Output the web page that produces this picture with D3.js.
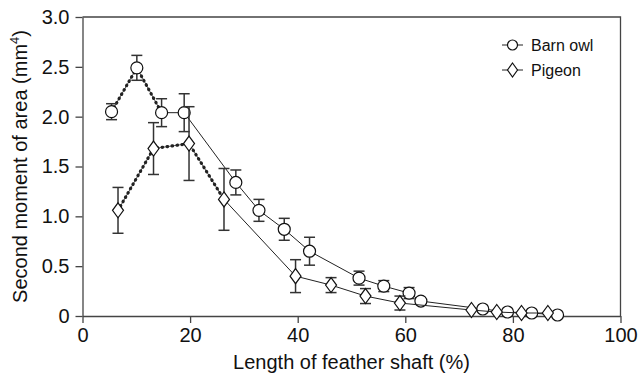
<!DOCTYPE html>
<html>
<head>
<meta charset="utf-8">
<script src="https://cdn.jsdelivr.net/npm/d3@7"></script>
<style>
  body { margin: 0; background: #fff; }
  svg { font-family: "Liberation Sans", Arial, sans-serif; }
</style>
</head>
<body>
<svg id="chart" width="639" height="379"></svg>
<script>
// barn owl (circles)
var owlX = [5.4, 10.1, 14.7, 18.9, 28.5, 32.8, 37.5, 42.2, 51.4, 56.0, 60.7, 62.9, 74.4, 79.0, 83.5, 88.3]
var owlY = [2.05, 2.49, 2.04, 2.04, 1.34, 1.06, 0.87, 0.65, 0.38, 0.30, 0.23, 0.15, 0.07, 0.04, 0.03, 0.01]
var owlErr = [0.08, 0.125, 0.14, 0.19, 0.125, 0.11, 0.11, 0.14, 0.07, 0.055, 0.055, 0, 0, 0, 0, 0]
var owlDotted = 3 // first points joined by the dotted line

// pigeon (diamonds)
var pigX = [6.6, 13.2, 19.8, 26.3, 39.6, 46.2, 52.6, 59.0, 72.3, 77.0, 81.6, 86.5]
var pigY = [1.06, 1.68, 1.73, 1.17, 0.40, 0.31, 0.20, 0.13, 0.06, 0.04, 0.03, 0.03]
var pigErr = [0.23, 0.26, 0.37, 0.31, 0.165, 0.075, 0.075, 0.07, 0, 0, 0, 0]
var pigDotted = 4

var xTicks = [0, 20, 40, 60, 80, 100]
var yTicks = [0, 0.5, 1.0, 1.5, 2.0, 2.5, 3.0]
var yTickLabels = ["0", "0.5", "1.0", "1.5", "2.0", "2.5", "3.0"]

var margin = {top: 17, right: 18.5, bottom: 63, left: 82.5}
  , width = 639 - margin.left - margin.right
  , height = 379 - margin.top - margin.bottom

var svg = d3.select("#chart")
var g = svg.append("g").attr("transform", "translate(" + margin.left + "," + margin.top + ")")

var x = d3.scaleLinear().domain([0, 100]).range([0, width])
var y = d3.scaleLinear().domain([0, 3]).range([height, 0])

// frame top + right
g.append("path")
  .attr("d", "M0,0H" + width + "V" + height)
  .attr("fill", "none").attr("stroke", "#444").attr("stroke-width", 1.3)

var xAxis = g.append("g")
  .attr("transform", "translate(0," + height + ")")
  .call(d3.axisBottom(x).tickValues(xTicks).tickSize(7).tickPadding(5).tickSizeOuter(0))
var yAxis = g.append("g")
  .call(d3.axisLeft(y).tickValues(yTicks).tickFormat((d, i) => yTickLabels[i]).tickSize(7).tickPadding(6).tickSizeOuter(0))

;[xAxis, yAxis].forEach(a => {
  a.selectAll("path, line").attr("stroke", "#444").attr("stroke-width", 1.3)
  a.selectAll("text").attr("fill", "#111").attr("font-size", 20)
    .attr("font-family", "Liberation Sans, Arial, sans-serif")
})

// axis titles
svg.append("text")
  .attr("x", margin.left + width / 2).attr("y", 369)
  .attr("text-anchor", "middle").attr("font-size", 20).attr("fill", "#111")
  .text("Length of feather shaft (%)")

var yt = svg.append("text")
  .attr("transform", "translate(27," + (margin.top + height / 2) + ") rotate(-90)")
  .attr("text-anchor", "middle").attr("font-size", 20).attr("fill", "#111")
yt.append("tspan").text("Second moment of area (mm")
yt.append("tspan").attr("dy", -8).attr("font-size", 13).text("4")
yt.append("tspan").attr("dy", 8).text(")")

function series(xs, ys, errs, nDot, symbol) {
  var pts = xs.map((d, i) => [d, ys[i], errs[i]])
  var line = d3.line().x(d => x(d[0])).y(d => y(d[1]))

  // thin solid line for the rest
  g.append("path").datum(pts.slice(nDot - 1))
    .attr("d", line).attr("fill", "none").attr("stroke", "#222").attr("stroke-width", 1)
  // dotted heavy part
  g.append("path").datum(pts.slice(0, nDot))
    .attr("d", line).attr("fill", "none").attr("stroke", "#555").attr("stroke-width", 1)
  g.append("path").datum(pts.slice(0, nDot))
    .attr("d", line).attr("fill", "none").attr("stroke", "#222")
    .attr("stroke-width", 3.2).attr("stroke-dasharray", "0.5,4.5").attr("stroke-linecap", "round")

  // error bars
  var eb = g.append("g").attr("stroke", "#333").attr("stroke-width", 1.5)
  pts.filter(d => d[2] > 0).forEach(d => {
    var cx = x(d[0]), t = y(d[1] + d[2]), b = y(d[1] - d[2])
    eb.append("line").attr("x1", cx).attr("x2", cx).attr("y1", t).attr("y2", b)
    eb.append("line").attr("x1", cx - 5.5).attr("x2", cx + 5.5).attr("y1", t).attr("y2", t)
    eb.append("line").attr("x1", cx - 5.5).attr("x2", cx + 5.5).attr("y1", b).attr("y2", b)
  })

  g.append("g").selectAll("path").data(pts).enter().append("path")
    .attr("transform", d => "translate(" + x(d[0]) + "," + y(d[1]) + ")")
    .attr("d", symbol)
    .attr("fill", "#fff").attr("stroke", "#111").attr("stroke-width", 1.2)
}

var circleSym = "M6,0A6,6 0 1,1 -6,0A6,6 0 1,1 6,0Z"
var diamondSym = "M0,-7.5L5.5,0L0,7.5L-5.5,0Z"

series(owlX, owlY, owlErr, owlDotted, circleSym)
series(pigX, pigY, pigErr, pigDotted, diamondSym)

// legend
var legend = svg.append("g").attr("font-size", 16).attr("fill", "#111")
var items = [["Barn owl", circleSym, 45], ["Pigeon", diamondSym, 70]]
items.forEach(it => {
  legend.append("line").attr("x1", 502).attr("x2", 523).attr("y1", it[2]).attr("y2", it[2])
    .attr("stroke", "#222").attr("stroke-width", 1)
  legend.append("path").attr("d", it[0] === "Barn owl" ? "M5,0A5,5 0 1,1 -5,0A5,5 0 1,1 5,0Z" : "M0,-7L5,0L0,7L-5,0Z")
    .attr("transform", "translate(512.5," + it[2] + ")")
    .attr("fill", "#fff").attr("stroke", "#111").attr("stroke-width", 1.2)
  legend.append("text").attr("x", 531).attr("y", it[2] + 6).text(it[0])
})
</script>
</body>
</html>
